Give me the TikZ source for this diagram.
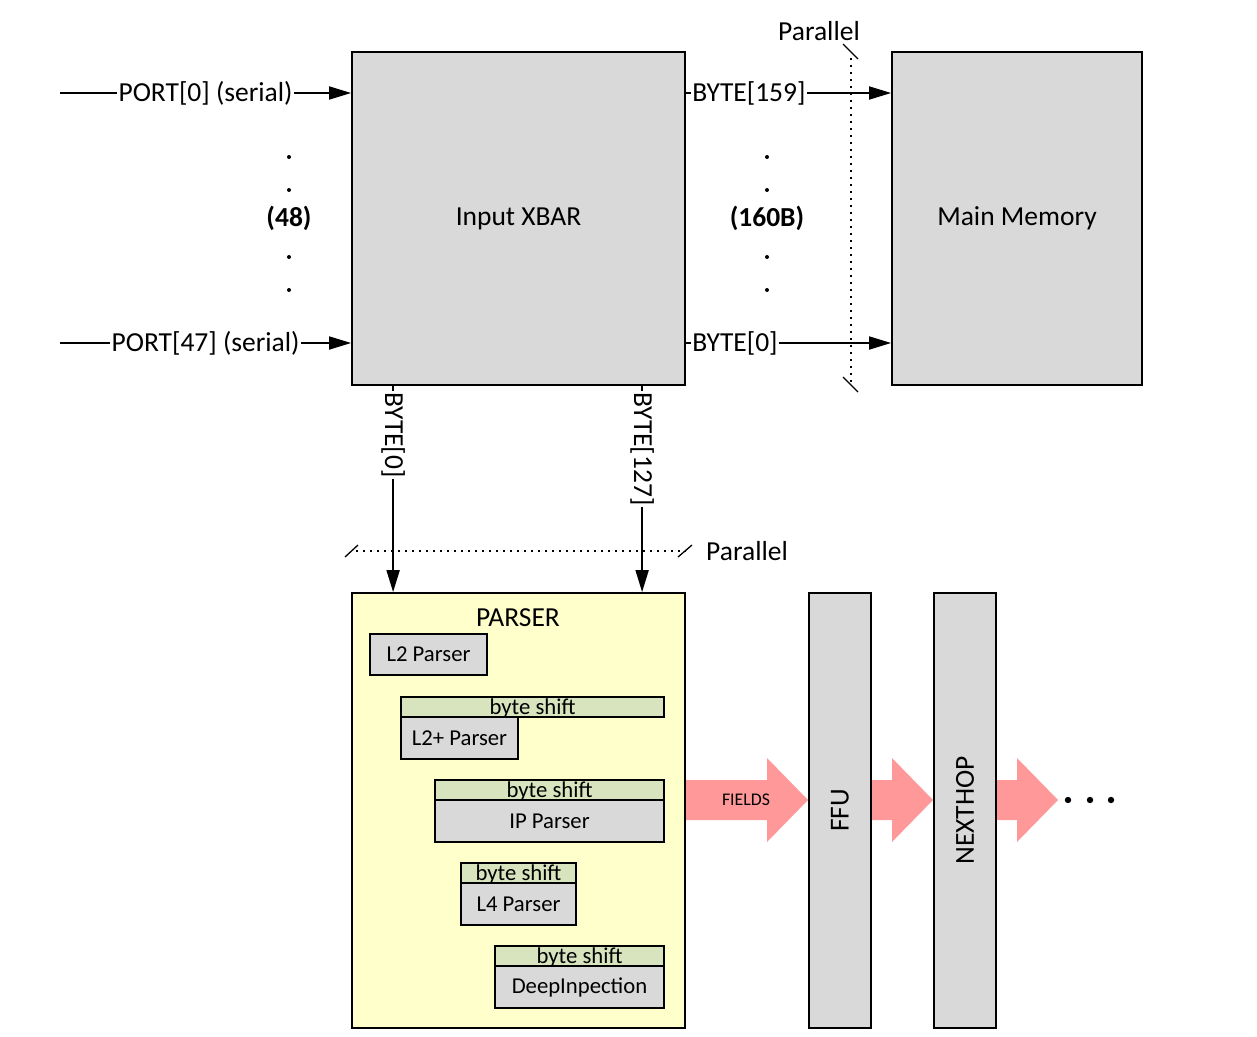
\documentclass[tikz,border=0pt]{standalone}
\usepackage{fontspec}
\setmainfont{Carlito}
\usepackage{tikz}
\usetikzlibrary{arrows.meta,positioning,calc}
\definecolor{blockgray}{HTML}{D9D9D9}
\definecolor{parseryellow}{HTML}{FFFFCC}
\definecolor{shiftgreen}{HTML}{D7E4BD}
\definecolor{flowpink}{HTML}{FF9999}

\begin{document}
\begin{tikzpicture}[x=1pt,y=-1pt,line width=1.8pt,
  font=\fontsize{27.5}{33}\selectfont,
  sig/.style={-{Triangle[length=22pt,width=13pt]}},
  lbl/.style={fill=white,inner sep=1.5pt},
  startlbl/.style={lbl,pos=0,anchor=west,outer sep=5pt},
  sub/.style={draw,fill=blockgray,inner sep=0pt,outer sep=0pt,anchor=north west,
    font=\fontsize{22.7}{27}\selectfont},
  shiftbar/.style={draw,fill=shiftgreen,inner sep=0pt,outer sep=0pt,anchor=south west,
    minimum height=20,text height=17,text depth=3,
    font=\fontsize{22.7}{27}\selectfont},
  parbar/.style={line width=1.5pt,dash pattern=on 1.5pt off 5.5pt},
  slash/.style={line width=1.3pt}]
  \useasboundingbox (0,0) rectangle (1257,1036);

  % Main blocks
  \node[draw,fill=blockgray,minimum width=333,minimum height=333] (xbar) at (518.5,218.5) {Input XBAR};
  \node[draw,fill=blockgray,minimum width=250,minimum height=333] (mem) at (1017,218.5) {Main Memory};

  % Serial ports in
  \coordinate (port0) at (60,93);
  \coordinate (port47) at (60,343);
  \draw[sig] (port0) -- node[lbl] (p0lbl) {PORT[0] (serial)} (port0 -| xbar.west);
  \draw[sig] (port47) -- node[lbl] (p47lbl) {PORT[47] (serial)} (port47 -| xbar.west);
  \node[font=\fontsize{27.5}{33}\selectfont\bfseries] (nports) at (289,218) {(48)};

  % Bytes to memory
  \draw[sig] (port0 -| xbar.east) -- node[startlbl] (b159) {BYTE[159]} (port0 -| mem.west);
  \draw[sig] (port47 -| xbar.east) -- node[startlbl] (b0) {BYTE[0]} (port47 -| mem.west);
  \node[font=\fontsize{27.5}{33}\selectfont\bfseries] (nbytes) at (767,218) {(160B)};

  \foreach \y in {157,190,257,290} {
    \fill (289,\y) circle (2pt);
    \fill (767,\y) circle (2pt);
  }

  % Parallel (memory side)
  \draw[parbar] (851,58) -- (851,382);
  \draw[slash] (843,44) -- (858,59);
  \draw[slash] (843,377) -- (858,392);
  \node (par1) at (819,31) {Parallel};

  % Parser
  \node[draw,fill=parseryellow,minimum width=333,minimum height=435] (parser) at (518.5,810.5) {};
  \node (partitle) at (518,618) {PARSER};

  \draw[sig] ([xshift=42pt]xbar.south west) -- node[startlbl,rotate=-90] (pb0) {BYTE[0]} ([xshift=42pt]parser.north west);
  \draw[sig] ([xshift=291pt]xbar.south west) -- node[startlbl,rotate=-90] (pb127) {BYTE[127]} ([xshift=291pt]parser.north west);

  % Parallel (parser side)
  \draw[parbar] (356,551) -- (686,551);
  \draw[slash] (345,557) -- (358,545);
  \draw[slash] (678,557) -- (692,545);
  \node[anchor=west] (par2) at (702,551) {Parallel};

  % Parser stages
  \node[sub,minimum width=117,minimum height=41] (l2) at (370,634) {L2 Parser};
  \node[sub,minimum width=117,minimum height=42] (l2p) at (401,717) {L2+ Parser};
  \node[shiftbar,minimum width=263] (sh1) at (l2p.north west) {byte shift};
  \node[sub,minimum width=229,minimum height=42] (ipp) at (435,800) {IP Parser};
  \node[shiftbar,minimum width=229] (sh2) at (ipp.north west) {byte shift};
  \node[sub,minimum width=115,minimum height=42] (l4) at (461,883) {L4 Parser};
  \node[shiftbar,minimum width=115] (sh3) at (l4.north west) {byte shift};
  \node[sub,minimum width=169,minimum height=42] (dpi) at (495,966) {DeepInpection};
  \node[shiftbar,minimum width=169] (sh4) at (dpi.north west) {byte shift};

  % Pipeline
  \foreach \xa/\xb/\xc in {686/767/808,871/892/933,996/1017/1058} {
    \fill[flowpink] (\xa,780) -- (\xb,780) -- (\xb,758) -- (\xc,800)
      -- (\xb,842) -- (\xb,820) -- (\xa,820) -- cycle;
  }
  \node[font=\fontsize{17.8}{20}\selectfont] (fields) at (746,800) {FIELDS};
  \node[draw,fill=blockgray,rotate=90,minimum width=435,minimum height=62] (ffu) at (840,810.5) {FFU};
  \node[draw,fill=blockgray,rotate=90,minimum width=435,minimum height=62] (nexthop) at (965,810.5) {NEXTHOP};
  \foreach \x in {1068,1090,1111} {
    \fill (\x,800) circle (3.2pt);
  }
\end{tikzpicture}
\end{document}
